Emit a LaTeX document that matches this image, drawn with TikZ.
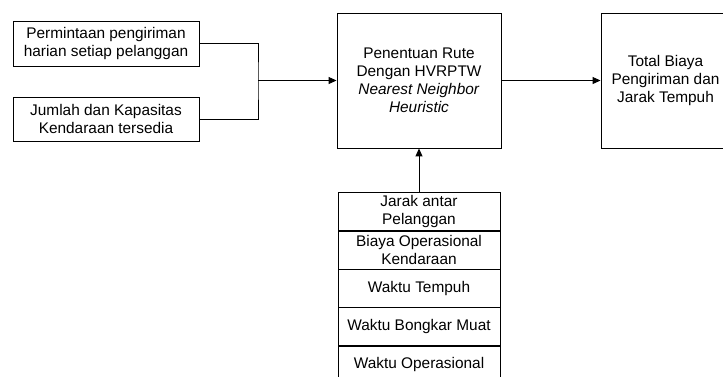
\documentclass[tikz,border=0pt]{standalone}
\usepackage{fontspec}
\setmainfont{Liberation Sans}
\usetikzlibrary{arrows.meta}

\begin{document}
\begin{tikzpicture}
[x=1pt,y=-1pt,%
  lineDecorate/.style={-{Triangle[length=8pt,width=7pt]},line width=1pt},%
  nodeDecorate/.style={shape=rectangle,draw,line width=0.9pt,inner sep=0pt,align=center},%
  font=\fontsize{15.4}{18}\selectfont]
\useasboundingbox (0,0) rectangle (723,376);
%% input boxes
\node (permintaan) at (106,43.5) [nodeDecorate,minimum width=186,minimum height=45]
  {Permintaan pengiriman\\harian setiap pelanggan};
\node (jumlah) at (106,119) [nodeDecorate,minimum width=186,minimum height=44]
  {Jumlah dan Kapasitas\\Kendaraan tersedia};
%% process and output
\node (rute) at (419,80.5) [nodeDecorate,minimum width=164,minimum height=135]
  {Penentuan Rute\\Dengan HVRPTW\\\textit{Nearest Neighbor}\\\textit{Heuristic}};
\node (total) at (665.5,80.5) [nodeDecorate,minimum width=129,minimum height=135]
  {Total Biaya\\Pengiriman dan\\Jarak Tempuh};
%% parameter stack
\foreach \nodename/\y/\txt in {jarak/212/{Jarak antar\\Pelanggan},
  biaya/250/{Biaya Operasional\\Kendaraan}, tempuh/288.5/{Waktu Tempuh},
  bongkar/327/{Waktu Bongkar Muat}, operasional/365/{Waktu Operasional}}
{
  \node (\nodename) at (419,\y) [nodeDecorate,minimum width=162,minimum height=38.5] {\txt};
}
%% edges or lines
\coordinate (gabung) at (258,80.5);
\draw[line width=1pt] (permintaan.east) -| (gabung) |- (jumlah.east);
\draw[lineDecorate] (gabung) -- (rute.west);
\draw[lineDecorate] (rute.east) -- (total.west);
\draw[lineDecorate] (jarak.north) -- (rute.south);
\end{tikzpicture}
\end{document}
